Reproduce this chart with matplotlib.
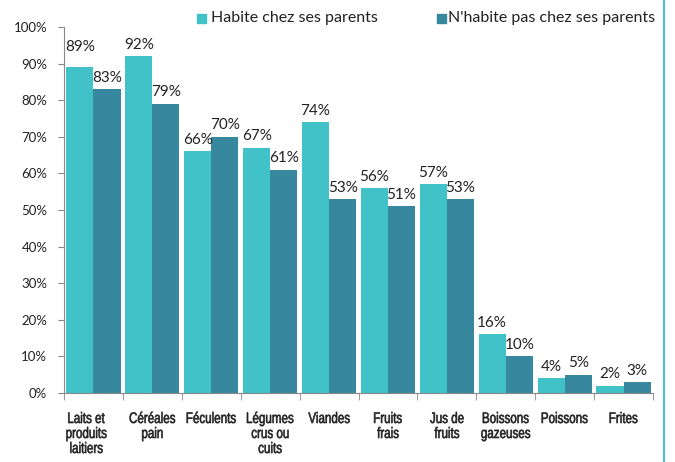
import matplotlib
matplotlib.use("Agg")
import matplotlib.pyplot as plt
import numpy as np
from matplotlib.lines import Line2D
from matplotlib.patches import Rectangle, PathPatch
from matplotlib.textpath import TextPath
from matplotlib.font_manager import FontProperties
from matplotlib.transforms import Affine2D

categories = ["Laits et\nproduits\nlaitiers", "Céréales\npain", "Féculents", "Légumes\ncrus ou\ncuits",
              "Viandes", "Fruits\nfrais", "Jus de\nfruits", "Boissons\ngazeuses", "Poissons", "Frites"]
chez_parents = [89, 92, 66, 67, 74, 56, 57, 16, 4, 2]
pas_chez_parents = [83, 79, 70, 61, 53, 51, 53, 10, 5, 3]
series_names = ["Habite chez ses parents", "N'habite pas chez ses parents"]

light = "#40c2c8"
dark = "#37889e"
W, H = 675, 462

plt.rcParams['font.family'] = ['Lato', 'DejaVu Sans']

fig = plt.figure(figsize=(W / 100, H / 100), dpi=100)
ax = fig.add_axes([64 / W, 1 - 393 / H, 589 / W, 366 / H])

x = np.arange(len(categories))
w = 0.46
b1 = ax.bar(x - w / 2, chez_parents, w, color=light)
b2 = ax.bar(x + w / 2, pas_chez_parents, w, color=dark)

for k, (bars, vals) in enumerate(((b1, chez_parents), (b2, pas_chez_parents))):
    for i, (r, v) in enumerate(zip(bars, vals)):
        off = 3.5 if (k == 0 and i == 0) else 1.2  # first label sits a bit higher in the original
        ax.text(r.get_x() + r.get_width() / 2, v + off, f"{v}%", ha="center", va="bottom",
                fontsize=11, color="#222222")

ax.set_xlim(-0.5, len(categories) - 0.5)
ax.set_ylim(0, 100)
ax.set_yticks(range(0, 101, 10))
ax.set_yticklabels([f"{t}%" for t in range(0, 101, 10)], fontsize=9.5, color="#222222")
ax.tick_params(axis="y", direction="out", length=4, color="#888888", pad=8)

ax.set_xticks([])
ax.set_xticks(np.arange(-0.5, len(categories)), minor=True)
ax.tick_params(axis="x", which="minor", length=5, color="#888888", direction="out", labelbottom=False)

for s in ["top", "right"]:
    ax.spines[s].set_visible(False)
for s in ["left", "bottom"]:
    ax.spines[s].set_color("#888888")
    ax.spines[s].set_linewidth(0.8)

# condensed category labels (no narrow font installed, so squeeze the glyph paths)
fp = FontProperties(family="Liberation Sans", size=11)
sx = 0.76
fig.canvas.draw()
for i, lab in enumerate(categories):
    cx = ax.transData.transform((i, 0))[0]
    if i == 0:
        cx -= 7
    for j, line in enumerate(lab.split("\n")):
        tp = TextPath((0, 0), line, prop=fp)
        ext = tp.get_extents()
        wpx = ext.width * sx * 100 / 72
        base = H - (423 + j * 15)
        tr = Affine2D().scale(sx * 100 / 72, 100 / 72).translate(cx - wpx / 2 - ext.x0 * sx * 100 / 72, base)
        fig.add_artist(PathPatch(tr.transform_path(tp), facecolor="#222222", edgecolor="#222222",
                                 linewidth=0.45, transform=None))

# legend drawn by hand
for (mx, tx), name, col in zip([(197, 211), (437, 448)], series_names, [light, dark]):
    fig.add_artist(Rectangle((mx / W, 1 - 23 / H), 9 / W, 9 / H, color=col, transform=fig.transFigure))
    fig.text(tx / W, 1 - 18 / H, name, ha="left", va="center", fontsize=11.5, color="#222222")

fig.add_artist(Line2D([664 / W, 664 / W], [0, 1], color="#4fbccb", linewidth=1.5))

fig.savefig("out.png", dpi=100)
